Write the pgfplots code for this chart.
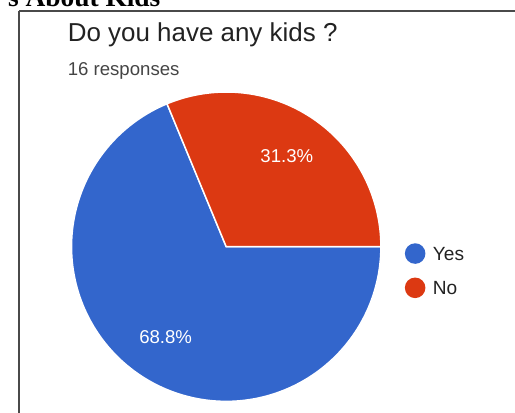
\documentclass[border=0pt]{standalone}
\usepackage{pgfplots}
\pgfplotsset{compat=1.18}
\usepackage{pgfplotstable}
\usepackage{fontspec}
\setmainfont{Liberation Sans}
\newfontfamily\headserif{Liberation Serif}
\definecolor{gblue}{HTML}{3366CC}
\definecolor{gred}{HTML}{DC3912}
\definecolor{bordergray}{HTML}{4A4A4A}
\definecolor{titlegray}{HTML}{222222}
\definecolor{subgray}{HTML}{444444}

\pgfplotstableread{
label value
Yes 11
No 5
}\kidsdata

\begin{document}
\pgfplotstablegetelem{0}{value}\of\kidsdata \let\yesv\pgfplotsretval
\pgfplotstablegetelem{1}{value}\of\kidsdata \let\nov\pgfplotsretval
\pgfmathsetmacro\total{\yesv+\nov}
\pgfmathsetmacro\noang{360*\nov/\total}
\pgfmathsetmacro\nomid{\noang/2}
\pgfmathsetmacro\yesmid{(\noang+360)/2}
\begin{tikzpicture}[x=1bp,y=1bp]
% cut-off heading (outside the page, only its foot shows)
\node[anchor=base east, inner sep=0pt] at (153,414) {\headserif\bfseries\fontsize{28bp}{30bp}\selectfont s About Kids};
% frame lines
\draw[bordergray, line width=2bp] (8.5,409.5) -- (520,409.5);
\draw[bordergray, line width=2bp] (8.5,409.5) -- (8.5,-5);
% title
\node[anchor=base west, inner sep=0pt, text=titlegray] at (58,379) {\fontsize{26.5bp}{30bp}\selectfont Do you have any kids ?};
\node[anchor=base west, inner sep=0pt, text=subgray] at (58,344) {\fontsize{19bp}{22bp}\selectfont 16 responses};
\begin{axis}[
  at={(62bp,11bp)}, anchor=south west,
  scale only axis, width=316bp, height=316bp,
  xmin=-1, xmax=1, ymin=-1, ymax=1,
  hide axis, clip=false,
]
\addplot[fill=gblue, draw=white, line width=1.5bp, domain=\noang:360, samples=150] ({cos(x)},{sin(x)}) -- (axis cs:0,0) -- cycle;
\addplot[fill=gred, draw=white, line width=1.5bp, domain=0:\noang, samples=80] ({cos(x)},{sin(x)}) -- (axis cs:0,0) -- cycle;
\node[text=white] at (axis cs:{0.705*cos(\nomid)},{0.705*sin(\nomid)}) {\fontsize{19bp}{22bp}\selectfont 31.3\%};
\node[text=white] at (axis cs:{0.705*cos(\yesmid)},{0.705*sin(\yesmid)}) {\fontsize{19bp}{22bp}\selectfont 68.8\%};
\end{axis}
% legend
\fill[gblue] (413,162) circle (10.5);
\fill[gred] (413,127) circle (10.5);
\node[anchor=base west, inner sep=0pt, text=titlegray] at (431,154.5) {\fontsize{19.5bp}{22bp}\selectfont Yes};
\node[anchor=base west, inner sep=0pt, text=titlegray] at (431,120) {\fontsize{19.5bp}{22bp}\selectfont No};
\pgfresetboundingbox
\path[use as bounding box] (0,0) rectangle (515,421);
\end{tikzpicture}
\end{document}
